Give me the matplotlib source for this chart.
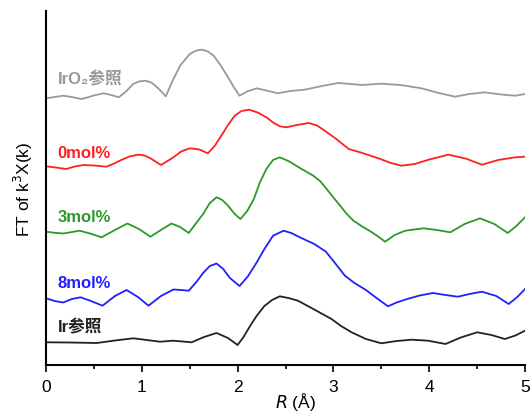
#!/usr/bin/env python3
"""Stacked FT-EXAFS curves (k3-weighted) for the Ir samples and references."""

import numpy as np
import matplotlib.pyplot as plt

plt.rcParams['font.family'] = ['Liberation Sans', 'Noto Sans CJK SC', 'DejaVu Sans']

#--- Data (R in Angstrom, stacked intensity in arb. units) ---
r_iro2 = [0.00, 0.09, 0.18, 0.27, 0.37, 0.43, 0.49, 0.60, 0.68, 0.76, 0.84, 0.91, 0.97,
          1.04, 1.10, 1.14, 1.20, 1.25, 1.32, 1.40, 1.50, 1.57, 1.63, 1.69, 1.75, 1.82,
          1.89, 1.96, 2.02, 2.10, 2.20, 2.30, 2.42, 2.55, 2.70, 2.88, 3.05, 3.18, 3.30,
          3.50, 3.70, 3.92, 4.10, 4.27, 4.42, 4.58, 4.75, 4.90, 5.00]
y_iro2 = [2.667, 2.680, 2.693, 2.680, 2.660, 2.675, 2.693, 2.717, 2.700, 2.677, 2.740,
          2.810, 2.835, 2.843, 2.825, 2.793, 2.740, 2.687, 2.840, 2.993, 3.110, 3.145,
          3.153, 3.135, 3.093, 3.000, 2.893, 2.780, 2.693, 2.735, 2.767, 2.745, 2.717,
          2.740, 2.753, 2.790, 2.820, 2.810, 2.800, 2.813, 2.800, 2.767, 2.720, 2.683,
          2.710, 2.727, 2.705, 2.693, 2.710]

r_0mol = [0.00, 0.10, 0.21, 0.30, 0.39, 0.50, 0.63, 0.70, 0.77, 0.87, 0.96, 1.03, 1.09,
          1.15, 1.20, 1.26, 1.33, 1.41, 1.50, 1.60, 1.69, 1.76, 1.83, 1.90, 1.97, 2.04,
          2.12, 2.21, 2.30, 2.37, 2.44, 2.51, 2.62, 2.74, 2.83, 2.91, 3.03, 3.16, 3.28,
          3.49, 3.60, 3.71, 3.85, 4.00, 4.20, 4.38, 4.55, 4.72, 4.90, 5.00]
y_0mol = [1.987, 1.975, 1.960, 1.985, 2.000, 1.995, 1.983, 2.010, 2.043, 2.085, 2.103,
          2.095, 2.067, 2.030, 2.000, 2.035, 2.077, 2.135, 2.167, 2.155, 2.117, 2.190,
          2.293, 2.400, 2.493, 2.540, 2.553, 2.525, 2.477, 2.425, 2.387, 2.377, 2.400,
          2.420, 2.395, 2.343, 2.260, 2.160, 2.127, 2.060, 2.020, 1.993, 2.010, 2.055,
          2.103, 2.065, 2.003, 2.050, 2.077, 2.083]

r_3mol = [0.00, 0.09, 0.18, 0.26, 0.35, 0.46, 0.58, 0.72, 0.85, 0.97, 1.09, 1.20, 1.31,
          1.40, 1.49, 1.56, 1.64, 1.71, 1.78, 1.84, 1.90, 1.97, 2.03, 2.10, 2.17, 2.23,
          2.30, 2.37, 2.44, 2.54, 2.65, 2.79, 2.86, 2.93, 3.00, 3.07, 3.14, 3.21, 3.30,
          3.38, 3.46, 3.54, 3.64, 3.75, 3.94, 4.08, 4.22, 4.37, 4.53, 4.68, 4.82, 4.91,
          5.00]
y_3mol = [1.333, 1.322, 1.315, 1.328, 1.343, 1.315, 1.277, 1.350, 1.415, 1.360, 1.283,
          1.350, 1.415, 1.380, 1.320, 1.410, 1.510, 1.620, 1.677, 1.650, 1.593, 1.510,
          1.460, 1.540, 1.660, 1.820, 1.960, 2.050, 2.077, 2.035, 1.970, 1.893, 1.840,
          1.760, 1.675, 1.593, 1.510, 1.443, 1.385, 1.340, 1.290, 1.233, 1.300, 1.343,
          1.367, 1.350, 1.327, 1.410, 1.467, 1.410, 1.320, 1.390, 1.477]

r_8mol = [0.00, 0.09, 0.18, 0.27, 0.36, 0.47, 0.59, 0.72, 0.84, 0.96, 1.07, 1.20, 1.33,
          1.41, 1.49, 1.57, 1.64, 1.71, 1.78, 1.85, 1.92, 2.02, 2.11, 2.20, 2.28, 2.37,
          2.48, 2.56, 2.65, 2.80, 2.92, 3.00, 3.12, 3.22, 3.34, 3.45, 3.57, 3.66, 3.77,
          3.90, 4.04, 4.17, 4.30, 4.42, 4.55, 4.70, 4.83, 4.92, 5.00]
y_8mol = [0.667, 0.640, 0.625, 0.660, 0.677, 0.640, 0.593, 0.690, 0.750, 0.680, 0.593,
          0.690, 0.755, 0.750, 0.743, 0.830, 0.920, 0.990, 1.015, 0.960, 0.870, 0.790,
          0.890, 1.027, 1.160, 1.293, 1.343, 1.320, 1.277, 1.210, 1.135, 1.040, 0.893,
          0.820, 0.750, 0.670, 0.587, 0.625, 0.660, 0.695, 0.720, 0.700, 0.683, 0.710,
          0.733, 0.690, 0.610, 0.680, 0.760]

r_ir = [0.00, 0.25, 0.53, 0.72, 0.91, 1.05, 1.19, 1.33, 1.52, 1.65, 1.78, 1.90, 2.00,
        2.06, 2.13, 2.20, 2.28, 2.36, 2.44, 2.53, 2.63, 2.80, 2.98, 3.08, 3.19, 3.34,
        3.50, 3.66, 3.82, 3.99, 4.17, 4.33, 4.50, 4.65, 4.79, 4.90, 5.00]
y_ir = [0.227, 0.225, 0.220, 0.245, 0.267, 0.250, 0.233, 0.243, 0.227, 0.280, 0.320,
        0.270, 0.200, 0.277, 0.390, 0.493, 0.590, 0.650, 0.687, 0.670, 0.643, 0.555,
        0.460, 0.390, 0.327, 0.260, 0.217, 0.240, 0.253, 0.243, 0.210, 0.275, 0.327,
        0.300, 0.260, 0.295, 0.343]

names = ['IrO₂参照', '0mol%', '3mol%', '8mol%', 'Ir参照']
colors = ['#999999', '#ff2020', '#2a9a2a', '#2020ff', '#222222']
label_y = [2.87, 2.13, 1.48, 0.82, 0.39]

# Plot
fig = plt.figure(figsize=(5.31, 4.14), dpi=100)
ax = fig.add_axes([46/531, 48/414, 479/531, 354/414])

series = [(r_iro2, y_iro2), (r_0mol, y_0mol), (r_3mol, y_3mol), (r_8mol, y_8mol), (r_ir, y_ir)]
for i in range(len(series)):
    r, y = series[i]
    ax.plot(r, y, color=colors[i], lw=1.3, solid_joinstyle='round')
    ax.text(0.12, label_y[i], names[i], color=colors[i], fontsize=12, fontweight='bold',
            va='center', ha='left', family=['Liberation Sans', 'Noto Sans CJK SC'])

ax.set_xlim(0, 5)
ax.set_ylim(0, 3.54)
ax.set_xticks([0, 1, 2, 3, 4, 5])
ax.set_xticks([0.5, 1.5, 2.5, 3.5, 4.5], minor=True)
ax.set_yticks([])
ax.tick_params(axis='x', which='major', length=5, width=1.2, labelsize=12.5, pad=5)
ax.tick_params(axis='x', which='minor', length=3, width=1.2)
for s in ['top', 'right']:
    ax.spines[s].set_visible(False)
for s in ['left', 'bottom']:
    ax.spines[s].set_linewidth(1.5)

# Add axis labels
ax.set_xlabel("$R$ (Å)", fontsize=12.5)
ax.xaxis.set_label_coords(0.52, -0.07)
ax.set_ylabel("FT of k$^3$X(k)", fontsize=12.5, labelpad=8)

fig.savefig('out.png', dpi=100)
